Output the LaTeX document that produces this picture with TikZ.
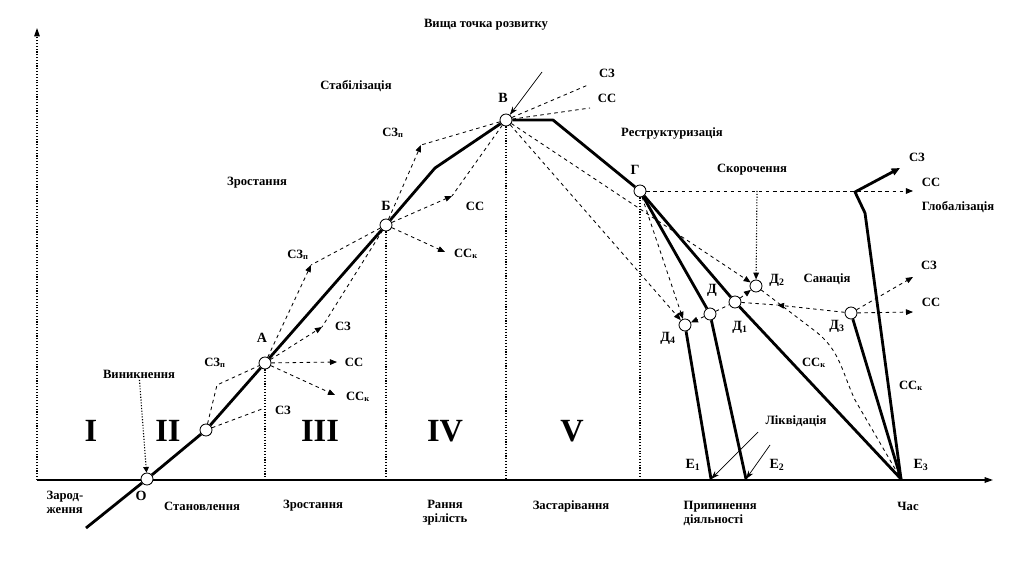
\documentclass[tikz,border=0pt]{standalone}
\usepackage{fontspec}
\setmainfont{Liberation Serif}
\usetikzlibrary{arrows.meta,positioning,calc}

\begin{document}
\begin{tikzpicture}[x=0.025cm,y=-0.025cm,
  pnt/.style={circle,draw,fill=white,minimum size=0.3cm,inner sep=0pt,line width=0.6pt},
  lbl/.style={font=\fontsize{9}{10}\selectfont\bfseries,inner sep=1pt},
  ptlbl/.style={font=\fontsize{10}{11}\selectfont\bfseries,inner sep=1pt},
  stage/.style={font=\fontsize{23}{24}\selectfont\bfseries,inner sep=0pt},
  mainline/.style={line width=2pt,line join=round},
  dsh/.style={line width=0.6pt,dash pattern=on 2.5pt off 2.5pt},
  dsharr/.style={dsh,-{Triangle[length=5pt,width=4pt]}},
  dotline/.style={line width=0.8pt,dash pattern=on 0.8pt off 1.2pt},
  thinarr/.style={line width=0.5pt,-{Stealth[length=6pt,width=4pt]}}]
  \useasboundingbox (0,0) rectangle (1024,576);

  %% Axes
  \coordinate (ax) at (37,480);
  \coordinate (xend) at (993,480);
  \coordinate (yend) at (37,28);
  \draw[line width=0.9pt,-{Triangle[length=6pt,width=4pt]}] (ax) -- (xend);
  \draw[dotline,-{Triangle[length=6pt,width=4pt]}] (ax) -- (yend);

  %% Points of the curve
  \coordinate (st) at (86,528);
  \coordinate (bend1) at (435,168);
  \coordinate (bend2) at (553,120);
  \coordinate (E1) at (711,479);
  \coordinate (E2) at (746,479);
  \coordinate (E3) at (901,479);
  \node[pnt] (O) at (147,479) {};
  \node[pnt] (s) at (206,430) {};
  \node[pnt] (A) at (265,363) {};
  \node[pnt] (B) at (386,225) {};
  \node[pnt] (V) at (506,120) {};
  \node[pnt] (G) at (640,191) {};
  \node[pnt] (D) at (710,314) {};
  \node[pnt] (D1) at (735,302) {};
  \node[pnt] (D2) at (756,286) {};
  \node[pnt] (D3) at (851,313) {};
  \node[pnt] (D4) at (685,325) {};

  %% Stage borders
  \draw[dotline] (A) -- (A |- ax);
  \draw[dotline] (B) -- (B |- ax);
  \draw[dotline] (V) -- (V |- ax);
  \draw[dotline] (G) -- (G |- ax);

  %% Main life curve
  \draw[mainline] (st) -- (O) -- (s) -- (A) -- (B) -- (bend1) -- (V) -- (bend2) -- (G) -- (D1) -- (E3);
  \draw[mainline] (G) -- (D) -- (E2);
  \draw[mainline] (D4) -- (E1);
  \draw[mainline] (D3) -- (E3);
  \coordinate (gl1) at (865,213);
  \coordinate (gl2) at (855,192);
  \coordinate (gl3) at (900,168);
  \draw[mainline,-{Triangle[length=6pt,width=5pt]}] (E3) -- (gl1) -- (gl2) -- (gl3);

  %% Strategic arrows, stage II-III
  \node[lbl] (vyn) at (139,374) {Виникнення};
  \draw[dotline,-{Triangle[length=4pt,width=4pt]}] (vyn) -- (O);
  \coordinate (cs) at (217,385);
  \draw[dsh] (s) -- (cs) -- (A);
  \coordinate (sz0) at (262,409);
  \draw[dsh] (s) -- (sz0);
  \coordinate (ca1) at (311,265);
  \draw[dsharr] (A) -- (ca1);
  \draw[dsh] (B) -- (ca1);
  \coordinate (ca2) at (322,327);
  \draw[dsharr] (A) -- (ca2);
  \draw[dsh] (B) -- (ca2);
  \coordinate (acc) at (337,362);
  \draw[dsharr] (A) -- (acc);
  \coordinate (acck) at (335,395);
  \draw[dsharr] (A) -- (acck);

  %% Stage IV
  \coordinate (cb1) at (421,145);
  \draw[dsharr] (B) -- (cb1);
  \draw[dsh] (V) -- (cb1);
  \coordinate (cb2) at (452,196);
  \draw[dsharr] (B) -- (cb2);
  \draw[dsh] (V) -- (cb2);
  \coordinate (bcck) at (445,252);
  \draw[dsharr] (B) -- (bcck);

  %% Top point
  \coordinate (vsz) at (588,85);
  \coordinate (vcc) at (590,108);
  \draw[dsh] (V) -- (vsz);
  \draw[dsh] (V) -- (vcc);
  \coordinate (vin) at (542,72);
  \draw[thinarr] (vin) -- (V);
  \draw[dsharr] (V) -- (D4);
  \draw[dsharr] (V) -- (D2);

  %% Stage V and crisis ways
  \coordinate (gcc) at (913,191);
  \draw[dsharr] (G) -- (gcc);
  \coordinate (skor) at (757,191);
  \draw[dotline,-{Triangle[length=5pt,width=4pt]}] (skor) -- (D2);
  \draw[dsharr] (G) -- (D4);
  \draw[dsharr] (D) -- (D4);
  \draw[dsh] (D) -- (D1);
  \draw[dsharr] (D1) -- (D2);
  \coordinate (dmid) at (777,305);
  \draw[dsh] (D1) -- (dmid);
  \draw[dsharr] (D3) -- (dmid);
  \coordinate (dsz) at (913,277);
  \coordinate (dcc) at (913,312);
  \draw[dsharr] (D3) -- (dsz);
  \draw[dsharr] (D3) -- (dcc);
  \coordinate (d2a) at (815,331);
  \coordinate (d2b) at (855,400);
  \draw[dsh] (D2) -- (d2a) to[out=-37,in=115] (d2b) -- (E3);

  %% Liquidation
  \node[lbl] (liq) at (796,421) {Ліквідація};
  \coordinate (lq1) at (758,432);
  \coordinate (lq2) at (770,445);
  \draw[thinarr] (lq1) -- (E1);
  \draw[thinarr] (lq2) -- (E2);

  %% Point labels
  \node[ptlbl] (lO) at (141,496) {О};
  \node[ptlbl] (lA) at (262,338) {А};
  \node[ptlbl] (lB) at (386,206) {Б};
  \node[ptlbl] (lV) at (503,98) {В};
  \node[ptlbl] (lG) at (635,170) {Г};
  \node[ptlbl] (lD) at (712,290) {Д};
  \node[ptlbl] (lD1) at (740,327) {Д\textsubscript{1}};
  \node[ptlbl] (lD2) at (777,280) {Д\textsubscript{2}};
  \node[ptlbl] (lD3) at (837,326) {Д\textsubscript{3}};
  \node[ptlbl] (lD4) at (668,338) {Д\textsubscript{4}};
  \node[ptlbl] (lE1) at (693,465) {Е\textsubscript{1}};
  \node[ptlbl] (lE2) at (777,465) {Е\textsubscript{2}};
  \node[ptlbl] (lE3) at (921,465) {Е\textsubscript{3}};

  %% Arrow labels
  \node[lbl] (t1) at (215,363) {СЗ\textsubscript{п}};
  \node[lbl] (t2) at (283,410) {СЗ};
  \node[lbl] (t3) at (298,255) {СЗ\textsubscript{п}};
  \node[lbl] (t4) at (343,326) {СЗ};
  \node[lbl] (t5) at (354,362) {СС};
  \node[lbl] (t6) at (358,397) {СС\textsubscript{к}};
  \node[lbl] (t7) at (393,133) {СЗ\textsubscript{п}};
  \node[lbl] (t8) at (475,206) {СС};
  \node[lbl] (t9) at (466,254) {СС\textsubscript{к}};
  \node[lbl] (t10) at (607,73) {СЗ};
  \node[lbl] (t11) at (607,98) {СС};
  \node[lbl] (t12) at (917,157) {СЗ};
  \node[lbl] (t13) at (931,182) {СС};
  \node[lbl] (t14) at (929,265) {СЗ};
  \node[lbl] (t15) at (931,302) {СС};
  \node[lbl] (t16) at (814,363) {СС\textsubscript{к}};
  \node[lbl] (t17) at (911,386) {СС\textsubscript{к}};

  %% Process names
  \node[lbl] (top) at (486,25) {Вища точка розвитку};
  \node[lbl] (stab) at (356,86) {Стабілізація};
  \node[lbl] (zrost1) at (257,183) {Зростання};
  \node[lbl] (restr) at (672,133) {Реструктуризація};
  \node[lbl] (skorl) at (752,170) {Скорочення};
  \node[lbl] (glob) at (958,207) {Глобалізація};
  \node[lbl] (san) at (827,279) {Санація};

  %% Stages
  \node[stage] (s1) at (91,431) {I};
  \node[stage] (s2) at (168,431) {II};
  \node[stage] (s3) at (320,431) {III};
  \node[stage] (s4) at (445,431) {IV};
  \node[stage] (s5) at (572,431) {V};

  %% Stage names under the axis
  \node[lbl,align=left] (n1) at (65,502) {Зарод-\\ження};
  \node[lbl] (n2) at (202,506) {Становлення};
  \node[lbl] (n3) at (313,506) {Зростання};
  \node[lbl,align=center] (n4) at (445,513) {Рання\\зрілість};
  \node[lbl] (n5) at (571,506) {Застарівання};
  \node[lbl,align=left,anchor=west] (n6) at (682,513) {Припинення\\діяльності};
  \node[lbl] (n7) at (908,506) {Час};
\end{tikzpicture}
\end{document}
